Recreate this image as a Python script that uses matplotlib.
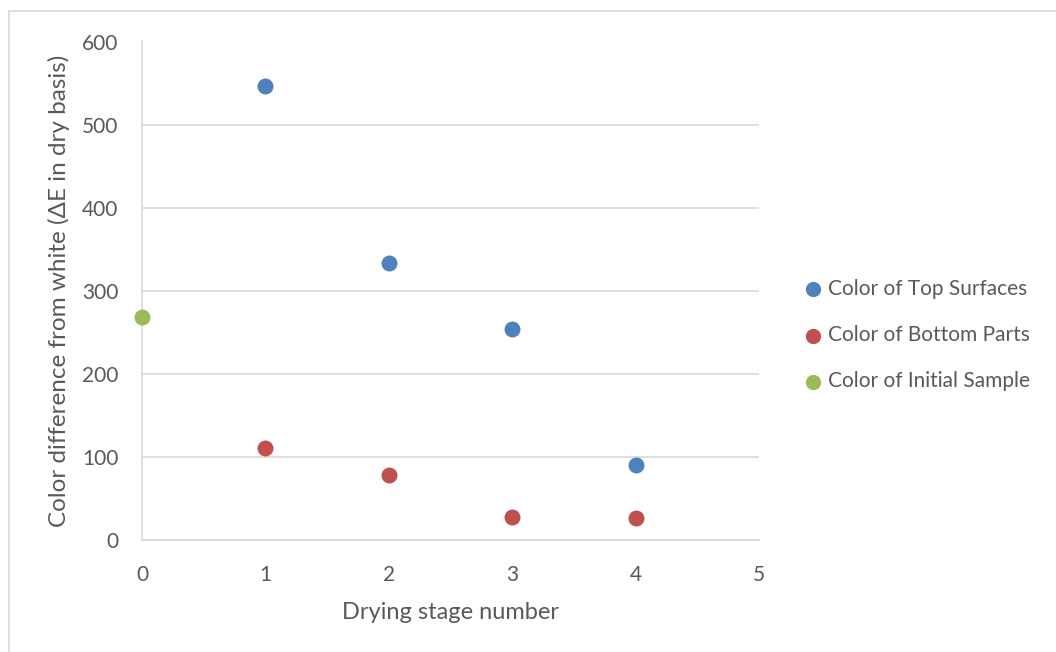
import matplotlib.pyplot as plt
from matplotlib.patches import Rectangle

# Data
top_stage = [1, 2, 3, 4]
top_delta_e = [547, 334, 254, 90]

bottom_stage = [1, 2, 3, 4]
bottom_delta_e = [111, 78, 28, 27]

initial_stage = [0]
initial_delta_e = [268]

x_ticks = [0, 1, 2, 3, 4, 5]
y_ticks = [0, 100, 200, 300, 400, 500, 600]

plt.rcParams["font.family"] = ["Lato", "DejaVu Sans"]
text_color = "#595959"
grid_color = "#d9d9d9"

fig = plt.figure(figsize=(10.56, 6.52), dpi=100)

# light outer chart border, like the Excel chart area
fig.patches.append(Rectangle((9 / 1056, -0.05), 1.1, (652 - 11) / 652 + 0.05,
                             transform=fig.transFigure, fill=False,
                             edgecolor="#d9d9d9", linewidth=1.2))

ax = fig.add_axes([142 / 1056, (652 - 540) / 652, (759 - 142) / 1056, (540 - 41.5) / 652])

ax.scatter(top_stage, top_delta_e, s=110, color="#4F81BD", label="Color of Top Surfaces", zorder=3, clip_on=False)
ax.scatter(bottom_stage, bottom_delta_e, s=110, color="#C0504D", label="Color of Bottom Parts", zorder=3, clip_on=False)
ax.scatter(initial_stage, initial_delta_e, s=110, color="#9BBB59", label="Color of Initial Sample", zorder=3, clip_on=False)

ax.set_xlim(0, 5)
ax.set_ylim(0, 600)
ax.set_xticks(x_ticks)
ax.set_yticks(y_ticks)
ax.tick_params(length=0, labelsize=15, colors=text_color)
ax.tick_params(axis="x", pad=18)
ax.tick_params(axis="y", pad=17)

ax.grid(axis="y", color=grid_color, linewidth=1.2, zorder=0)
for side in ["top", "right"]:
    ax.spines[side].set_visible(False)
ax.spines["left"].set_color(grid_color)
ax.spines["bottom"].set_color(grid_color)
ax.spines["left"].set_linewidth(1.2)
ax.spines["bottom"].set_linewidth(1.2)

ax.set_xlabel("Drying stage number", fontsize=17, color=text_color, labelpad=12)
ax.set_ylabel("Color difference from white (ΔE in dry basis)", fontsize=17.5,
              color=text_color, labelpad=9)

fig.legend(loc="center left", bbox_to_anchor=(800 / 1056, (652 - 335) / 652),
           frameon=False, fontsize=15, labelcolor=text_color,
           handlelength=1.2, handletextpad=0.15, labelspacing=1.25, markerscale=0.95,
           borderpad=0, borderaxespad=0)

plt.savefig("out.png", dpi=100)
